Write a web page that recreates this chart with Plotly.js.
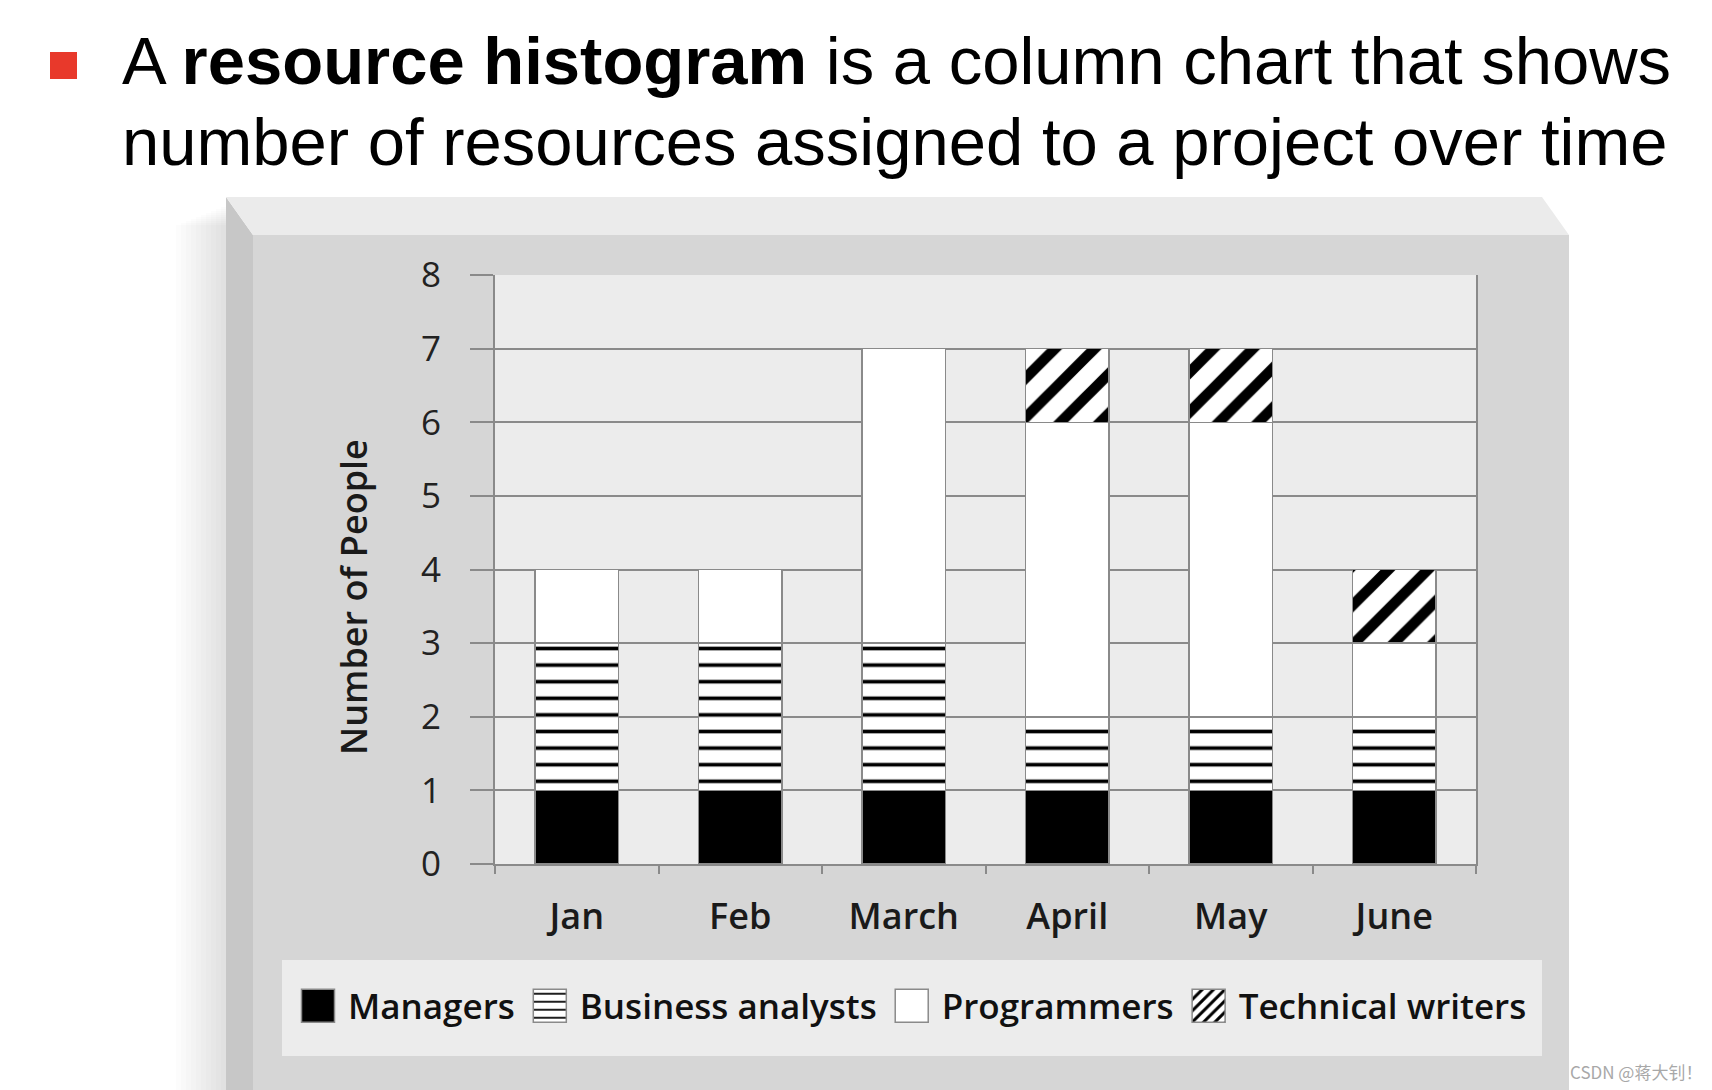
<!DOCTYPE html>
<html>
<head>
<meta charset="utf-8">
<script src="https://cdn.plot.ly/plotly-3.0.1.min.js"></script>
<style>
  html, body { margin: 0; padding: 0; background: #ffffff; }
  #chart { width: 1712px; height: 1090px; }
</style>
</head>
<body>
<div id="chart"></div>
<script>
// ---- data ----
const months = ['Jan', 'Feb', 'March', 'April', 'May', 'June'];
const managers = [1, 1, 1, 1, 1, 1];
const businessAnalysts = [2, 2, 2, 1, 1, 1];
const programmers = [1, 1, 4, 4, 4, 1];
const technicalWriters = [0, 0, 0, 1, 1, 1];
const yTicks = [0, 1, 2, 3, 4, 5, 6, 7, 8];
const seriesNames = ['Managers', 'Business analysts', 'Programmers', 'Technical writers'];
const titleLine1 = 'A <b>resource histogram</b> is a column chart that shows';
const titleLine2 = 'number of resources assigned to a project over time';
const yTitle = 'Number of People';
const watermark = 'CSDN @蒋大钊！';

// ---- geometry helpers (pixel -> paper) ----
const W = 1712, H = 1090;
const L = 495, R = 1476, T = 275, B = 864;
const px = X => (X - L) / (R - L);
const py = Y => (B - Y) / (B - T);

const gray = '#8a8a8a';
const labelFont = 'Open Sans, Noto Sans, sans-serif';

const outline = { color: gray, width: 1.5 };
const traces = [
  { name: seriesNames[0], x: months, y: managers, type: 'bar',
    marker: { color: '#000000', line: outline } },
  { name: seriesNames[1], x: months, y: businessAnalysts, type: 'bar',
    marker: { color: '#ffffff', line: outline,
      pattern: { shape: '-', fgcolor: '#000000', bgcolor: '#ffffff', size: 16.6, solidity: 0.22, fillmode: 'replace' } } },
  { name: seriesNames[2], x: months, y: programmers, type: 'bar',
    marker: { color: '#ffffff', line: outline } },
  { name: seriesNames[3], x: months, y: technicalWriters, type: 'bar',
    marker: { color: '#ffffff', line: outline,
      pattern: { shape: '/', fgcolor: '#000000', bgcolor: '#ffffff', size: 28, solidity: 0.38, fillmode: 'replace' } } }
];
traces.forEach(t => { t.hoverinfo = 'skip'; });

// shadow strips left of the frame
const shapes = [];
for (let i = 0; i < 10; i++) {
  const x0 = 176 + i * 5;
  shapes.push({ type: 'rect', xref: 'paper', yref: 'paper', layer: 'below',
    x0: px(x0), x1: px(226), y0: py(1090), y1: py(205 + (10 - i) * 2),
    fillcolor: 'rgba(0,0,0,0.012)', line: { width: 0 } });
}
shapes.push(
  // left face
  { type: 'path', xref: 'paper', yref: 'paper', layer: 'below',
    path: `M${px(226)},${py(197)} L${px(253)},${py(235)} L${px(253)},${py(1090)} L${px(226)},${py(1090)} Z`,
    fillcolor: '#c7c7c7', line: { width: 0 } },
  // top face
  { type: 'path', xref: 'paper', yref: 'paper', layer: 'below',
    path: `M${px(226)},${py(197)} L${px(1542)},${py(197)} L${px(1569)},${py(235)} L${px(253)},${py(235)} Z`,
    fillcolor: '#ebebeb', line: { width: 0 } },
  // front face
  { type: 'rect', xref: 'paper', yref: 'paper', layer: 'below',
    x0: px(253), x1: px(1569), y0: py(1090), y1: py(235),
    fillcolor: '#d6d6d6', line: { width: 0 } },
  // plot background
  { type: 'rect', xref: 'paper', yref: 'paper', layer: 'below',
    x0: 0, x1: 1, y0: 0, y1: 1, fillcolor: '#ececec', line: { width: 0 } },
  // legend background
  { type: 'rect', xref: 'paper', yref: 'paper', layer: 'below',
    x0: px(282), x1: px(1542), y0: py(1056), y1: py(960),
    fillcolor: '#ececec', line: { width: 0 } },
  // red bullet
  { type: 'rect', xref: 'paper', yref: 'paper', layer: 'above',
    x0: px(50), x1: px(77), y0: py(79), y1: py(52),
    fillcolor: '#e8392b', line: { width: 0 } }
);

const annotations = [
  { xref: 'paper', yref: 'paper', x: px(120), y: py(61), xanchor: 'left', yanchor: 'middle',
    text: titleLine1, showarrow: false,
    font: { family: 'Liberation Sans, Arial, sans-serif', size: 67, color: '#000000' } },
  { xref: 'paper', yref: 'paper', x: px(120), y: py(141), xanchor: 'left', yanchor: 'middle',
    text: titleLine2, showarrow: false,
    font: { family: 'Liberation Sans, Arial, sans-serif', size: 67, color: '#000000' } },
  { xref: 'paper', yref: 'paper', x: px(353), y: py(597), xanchor: 'center', yanchor: 'middle',
    text: yTitle, textangle: -90, showarrow: false,
    font: { family: labelFont, size: 36, weight: 600, color: '#1a1a1a' } },
  { xref: 'paper', yref: 'paper', x: px(1636), y: py(1071), xanchor: 'center', yanchor: 'middle',
    text: watermark, showarrow: false,
    font: { family: 'Noto Sans CJK SC, sans-serif', size: 17, color: '#a8a8a8' } }
];

const layout = {
  width: W, height: H,
  margin: { l: L, r: W - R, t: T, b: H - B, pad: 0 },
  paper_bgcolor: '#ffffff',
  plot_bgcolor: 'rgba(0,0,0,0)',
  barmode: 'stack',
  bargap: 0.49,
  showlegend: true,
  legend: {
    orientation: 'h', x: px(288), xanchor: 'left', y: py(1006), yanchor: 'middle',
    bgcolor: 'rgba(0,0,0,0)', borderwidth: 0, traceorder: 'normal',
    itemwidth: 50, itemclick: false, itemdoubleclick: false,
    font: { family: labelFont, size: 35, weight: 600, color: '#111111' }
  },
  xaxis: {
    type: 'category', tickson: 'boundaries', ticks: 'outside', ticklen: 8, tickwidth: 2,
    tickcolor: gray, showline: true, linecolor: gray, linewidth: 2, showgrid: false,
    tickfont: { family: labelFont, size: 36, weight: 600, color: '#1a1a1a' },
    ticklabelstandoff: 20, fixedrange: true
  },
  yaxis: {
    range: [0, 8], tickmode: 'array', tickvals: yTicks, ticktext: yTicks.map(String),
    ticks: 'outside', ticklen: 23, tickwidth: 2, tickcolor: gray,
    showgrid: true, gridcolor: gray, gridwidth: 2, zeroline: false,
    showline: true, mirror: true, linecolor: gray, linewidth: 2,
    tickfont: { family: labelFont, size: 35, weight: 400, color: '#222222' },
    ticklabelstandoff: 22, fixedrange: true
  },
  shapes: shapes,
  annotations: annotations
};

Plotly.newPlot('chart', traces, layout, { displayModeBar: false, staticPlot: true }).then(() => {
  document.querySelectorAll('#chart .legendpoints path').forEach(p => {
    p.setAttribute('d', 'M16.5,16.5H-16.5V-16.5H16.5Z');
  });
});
</script>
</body>
</html>
